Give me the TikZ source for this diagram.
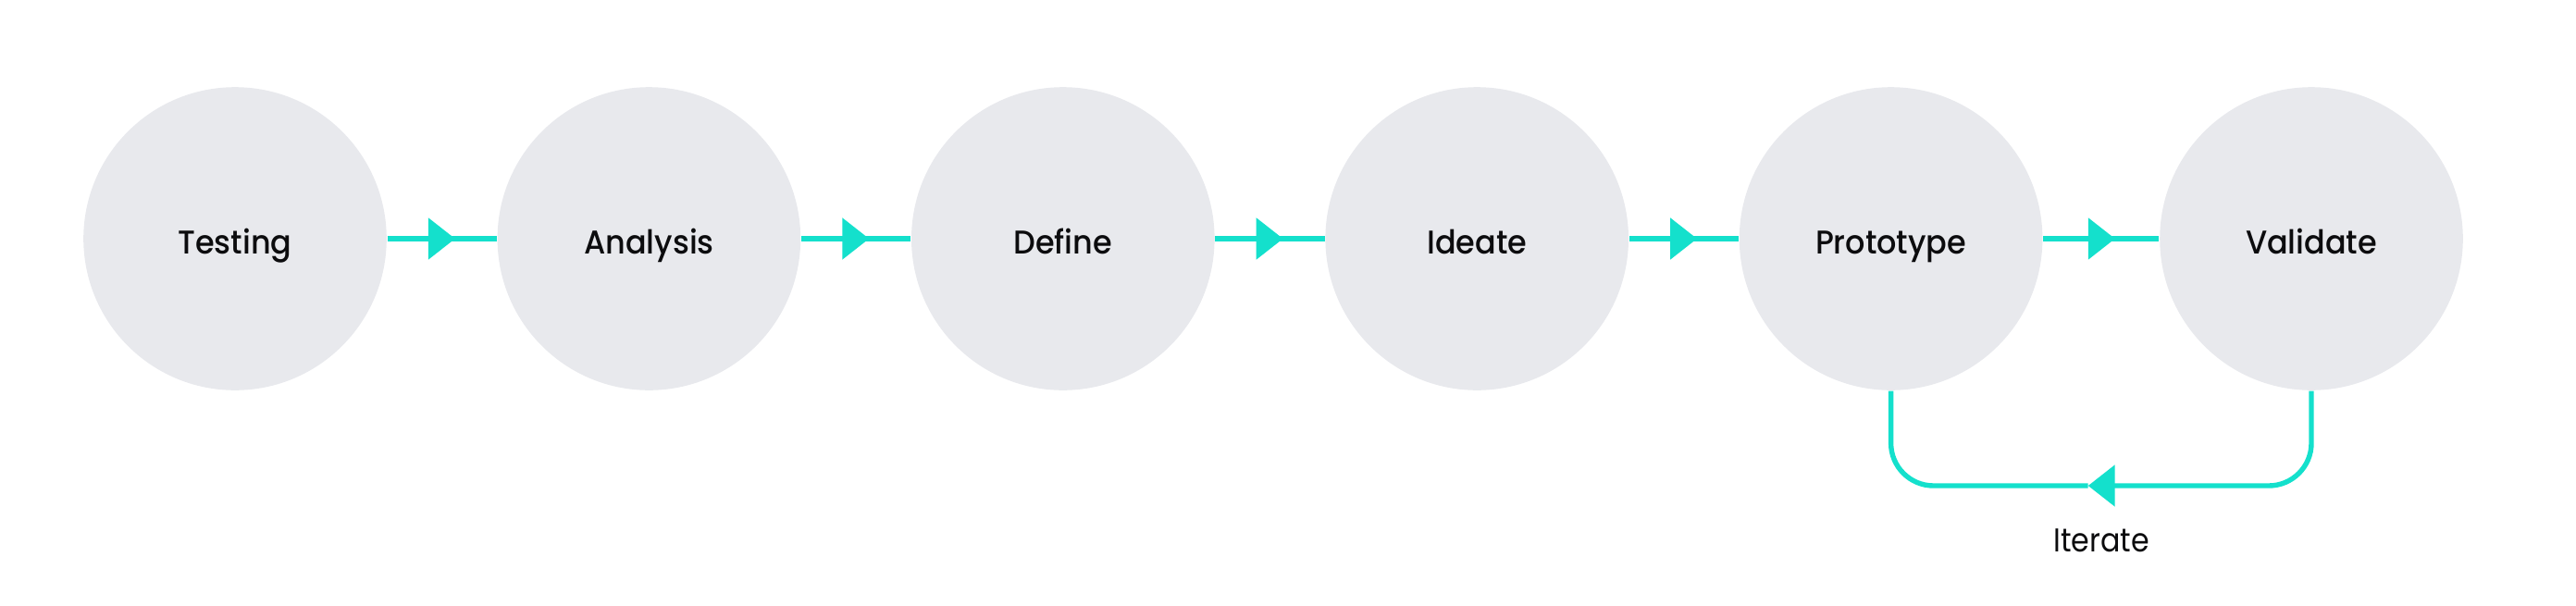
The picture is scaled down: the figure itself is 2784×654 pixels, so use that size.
\documentclass[tikz,border=0pt]{standalone}
\usepackage{fontspec}
\setmainfont{Poppins}[FakeStretch=0.89]
\newfontfamily\stagefont{Poppins Medium}[FakeStretch=0.94]
\usetikzlibrary{arrows.meta,decorations.markings}

\definecolor{stagegray}{RGB}{232,233,237}
\definecolor{flowteal}{RGB}{20,224,204}
\definecolor{inkblack}{RGB}{12,12,14}

\tikzset{
  stage/.style={circle,fill=stagegray,minimum size=81.9pt,inner sep=0pt,
    font=\stagefont\fontsize{8.9}{10}\selectfont,text=inkblack,
    text height=8.2pt,text depth=0pt},
  flow/.style={draw=flowteal,line width=1.35pt},
  flowtip/.style={-{Triangle[length=7.25pt,width=11pt]}},
  midtip/.style={postaction={decorate},decoration={markings,
    mark=at position 0.62 with {\arrow[flowteal]{Triangle[length=7.25pt,width=11pt]}}}}
}

\begin{document}
\begin{tikzpicture}[x=0.25pt,y=0.25pt,yscale=-1,xscale=1]
\useasboundingbox (0,0) rectangle (2784,654);

%Shape: Circles
\node[stage] (testing) at (254,258) {Testing};
\node[stage] (analysis) at (701.4,258) {Analysis};
\node[stage] (define) at (1148.8,258) {Define};
\node[stage] (ideate) at (1596.2,258) {Ideate};
\node[stage] (prototype) at (2043.6,258) {Prototype};
\node[stage] (validate) at (2498,258) {Validate};

%Straight Lines
\draw[flow,midtip] (testing) -- (analysis);
\draw[flow,midtip] (analysis) -- (define);
\draw[flow,midtip] (define) -- (ideate);
\draw[flow,midtip] (ideate) -- (prototype);
\draw[flow,midtip] (prototype) -- (validate);

%Loop back
\coordinate (looptip) at (2256.7,525);
\draw[flow,flowtip,rounded corners=11.5pt] (validate.south) |- (looptip);
\draw[flow,rounded corners=11.5pt] (looptip) -| (prototype.south);

% Text Node
\node[font=\fontsize{8.9}{10}\selectfont,text=inkblack] (iterate) at (2271,584) {Iterate};

\end{tikzpicture}
\end{document}
